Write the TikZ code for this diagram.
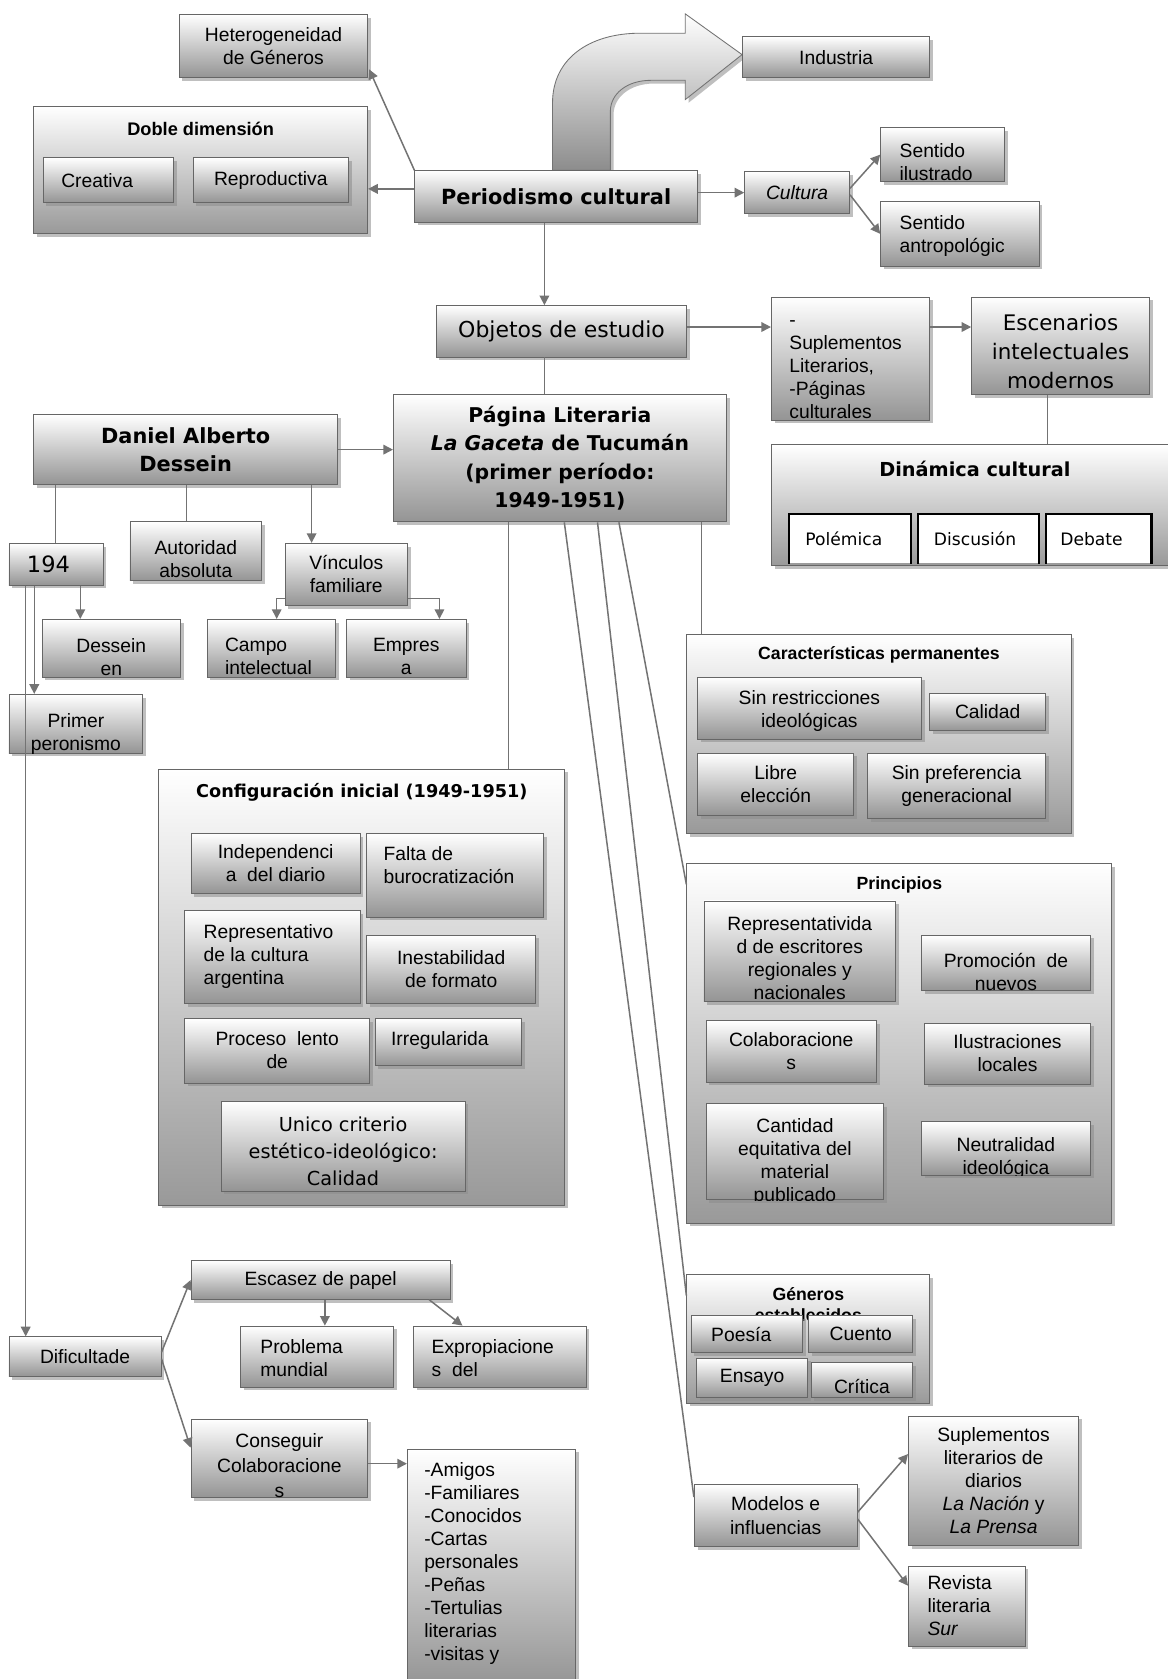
\documentclass[tikz,border=0pt]{standalone}
\usepackage{fontspec}
\setmainfont{Liberation Sans}
\newfontfamily\dvs{DejaVu Sans}
\usetikzlibrary{shadows,arrows.meta,calc}
\newcommand\nfs{\fontsize{18}{21.5}\selectfont}
\newcommand\bxn{}
\newcommand\bx[8]{%
 \node[#6, anchor=north west, minimum width={(#4-(#2))*1pt}, minimum height={(#5-(#3))*1pt}] (#1) at (#2,#3) {};
 \renewcommand\bxn{#1}%
 \begin{scope}
  \clip (#1.south west) rectangle (#1.north east);
  \node[txt,#7] (#1-t) {#8};
 \end{scope}}
\tikzset{
 bxs/.style={draw=black!60, line width=0.8pt, top color=white, bottom color=black!42, inner sep=0pt,
   drop shadow={shadow xshift=3pt,shadow yshift=-3pt,fill=black!45,opacity=0.55}},
 ctn/.style={bxs, bottom color=black!40},
 wht/.style={fill=white, inner sep=0pt},
 txt/.style={inner sep=0pt, align=center, font=\nfs},
 ct/.style={at={(\bxn.center)}},
 tp/.style={at={(\bxn.north)}, anchor=north, yshift=-#1},
 tl/.style 2 args={at={(\bxn.north west)}, anchor=north west, xshift=#1, yshift=-#2, align=left},
 lc/.style={at={(\bxn.west)}, anchor=west, xshift=#1},
 ln/.style={draw=black!55, line width=1.4pt},
 ar/.style={ln, -{Triangle[length=9pt,width=9pt]}},
 hd/.style={inner sep=0pt, align=center, font=\bfseries\fontsize{16.5}{20}\selectfont},
 bighd/.style={inner sep=0pt, align=center, font=\dvs\bfseries\fontsize{18}{22}\selectfont},
}
\begin{document}
\begin{tikzpicture}[x=1pt,y=-1pt]
\fill[white] (0,0) rectangle (1090,1568);
\useasboundingbox (0,0) rectangle (1090,1568);

% ---------- top ----------
\bx{hetero}{167}{13}{343}{72}{bxs}{ct}{Heterogeneidad\\de Géneros}
\bx{doble}{31}{99}{343}{218}{ctn}{ct}{}
\node[hd,font=\bfseries\fontsize{17}{20}\selectfont] (dobleh) at ($(doble.north)+(0,21)$) {Doble dimensión};
\bx{creat}{40}{147}{162}{189}{bxs}{lc=17pt}{Creativa}
\bx{reprod}{180}{147}{325}{189}{bxs}{ct}{Reproductiva}

\path[draw=black!55, line width=0.8pt, top color=white, bottom color=black!45,
  drop shadow={shadow xshift=3pt,shadow yshift=-3pt,fill=black!45,opacity=0.55}]
  (516,159) -- (516,96) .. controls (516,55) and (550,31) .. (598,31) -- (640,31) -- (640,13)
  -- (693,51) -- (640,93) -- (640,75) -- (608,75) .. controls (585,75) and (570,88) .. (570,104)
  -- (570,159) -- cycle;

\bx{indus}{693}{34}{868}{72}{bxs}{ct}{Industria}
\bx{perio}{387}{159}{651}{207}{bxs}{ct,font=\dvs\bfseries\fontsize{19.5}{23}\selectfont}{Periodismo cultural}
\bx{cult}{695}{160}{793}{199}{bxs}{ct,font=\nfs\itshape}{Cultura}
\bx{ilus}{822}{119}{938}{169}{bxs}{tl={18pt}{15pt}}{Sentido\\ilustrado}
\bx{antr}{822}{188}{970}{248}{bxs}{tl={18pt}{13.5pt}}{Sentido\\antropológic}

% ---------- objetos ----------
\bx{objet}{407}{285}{641}{333}{bxs}{ct,font=\dvs\fontsize{20.5}{24}\selectfont}{Objetos de estudio}
\bx{supl}{720}{277}{868}{392}{bxs}{tl={17pt}{15pt}}{\vphantom{S}-\\Suplementos\\Literarios,\\-Páginas\\culturales}
\bx{escen}{907}{277}{1073}{368}{bxs}{tp=16pt,font=\dvs\fontsize{20}{27}\selectfont}{Escenarios\\intelectuales\\modernos}

\bx{dinam}{720}{415}{1100}{528}{ctn}{ct}{}
\node[bighd] (dinamh) at ($(dinam.north)+(0,23)$) {Dinámica cultural};
\bx{polem}{737}{480}{850}{526}{wht}{lc=15pt,font=\dvs\fontsize{16}{20}\selectfont}{Polémica}
\bx{discu}{857}{480}{970}{526}{wht}{lc=15pt,font=\dvs\fontsize{16}{20}\selectfont}{Discusión}
\bx{debat}{977}{480}{1075}{526}{wht}{lc=13pt,font=\dvs\fontsize{16}{20}\selectfont}{Debate}
\draw[line width=2pt] (polem.south west) -- (polem.north west) -- (polem.north east) -- (polem.south east);
\draw[line width=2pt] (discu.south west) -- (discu.north west) -- (discu.north east) -- (discu.south east);
\draw[line width=2pt] (debat.south west) -- (debat.north west) -- (debat.north east) -- (debat.south east);

\bx{pagina}{367}{368}{678}{487}{bxs}{ct,font=\dvs\bfseries\fontsize{19}{26.5}\selectfont}{Página Literaria\\\textit{La Gaceta} de Tucumán\\(primer período:\\1949-1951)}
\bx{daniel}{31}{387}{315}{452}{bxs}{ct,font=\dvs\bfseries\fontsize{19.5}{26}\selectfont}{Daniel Alberto\\Dessein}

% ---------- Dessein branch ----------
\bx{b194}{8}{507}{96}{546}{bxs}{lc=17pt,font=\dvs\fontsize{21}{24}\selectfont}{194}
\bx{autor}{121}{487}{244}{542}{bxs}{tp=17.5pt}{Autoridad\\absoluta}
\bx{vinc}{266}{507}{380}{565}{bxs}{ct}{Vínculos\\familiare}
\bx{dessein}{39}{578}{168}{632}{bxs}{tp=18pt}{Dessein\\en}
\bx{campo}{193}{578}{313}{632}{bxs}{tl={17pt}{17.5pt}}{Campo\\intelectual}
\bx{empresa}{323}{578}{435}{632}{bxs}{tp=18pt}{Empres\\a}
\bx{primer}{8}{648}{133}{703}{bxs}{tp=18pt}{Primer\\peronismo}

% ---------- Configuracion inicial ----------
\bx{config}{148}{718}{527}{1125}{ctn}{ct}{}
\node[hd,font=\dvs\bfseries\fontsize{16.5}{20}\selectfont] (configh) at ($(config.north)+(0,22)$) {Configuración inicial (1949-1951)};
\bx{indep}{178}{778}{336}{834}{bxs}{ct}{Independenci\\a\ \ del diario}
\bx{falta}{342}{778}{507}{856}{bxs}{tl={16pt}{12.5pt}}{Falta de\\burocratización}
\bx{repres}{172}{850}{336}{937}{bxs}{tl={18pt}{13.5pt}}{Representativo\\de la cultura\\argentina}
\bx{inest}{342}{873}{500}{937}{bxs}{ct}{Inestabilidad\\de formato}
\bx{proceso}{172}{951}{345}{1011}{bxs}{tp=12.5pt}{Proceso\ \ lento\\de}
\bx{irreg}{350}{951}{487}{995}{bxs}{tl={15pt}{12.5pt}}{Irregularida}
\bx{unico}{206}{1028}{434}{1112}{bxs}{tp=15pt,font=\dvs\fontsize{18}{25}\selectfont}{Unico criterio\\estético-ideológico:\\Calidad}

% ---------- Caracteristicas ----------
\bx{caract}{641}{592}{1000}{778}{ctn}{ct}{}
\node[hd] (caracth) at ($(caract.north)+(0,20)$) {Características permanentes};
\bx{sinrest}{651}{632}{860}{690}{bxs}{tp=12.5pt}{Sin restricciones\\ideológicas}
\bx{calid}{868}{647}{976}{682}{bxs}{ct}{Calidad}
\bx{libre}{651}{703}{797}{761}{bxs}{ct}{Libre\\elección}
\bx{sinpref}{810}{703}{976}{764}{bxs}{tp=11.5pt}{Sin preferencia\\generacional}

% ---------- Principios ----------
\bx{princ}{641}{806}{1038}{1142}{ctn}{ct}{}
\node[hd] (princh) at ($(princ.north)+(0,20)$) {Principios};
\bx{reprv}{657}{841}{836}{935}{bxs}{tp=14.5pt}{Representativida\\d de escritores\\regionales y\\nacionales}
\bx{promo}{860}{873}{1018}{925}{bxs}{tp=17pt}{Promoción\ \ de\\nuevos}
\bx{colab}{659}{953}{818}{1010}{bxs}{tp=11.5pt}{Colaboracione\\s}
\bx{ilust}{863}{955}{1018}{1012}{bxs}{ct}{Ilustraciones\\locales}
\bx{cantid}{659}{1030}{825}{1120}{bxs}{tp=14pt}{Cantidad\\equitativa del\\material\\publicado}
\bx{neutr}{860}{1047}{1018}{1097}{bxs}{tp=15pt}{Neutralidad\\ideológica}

% ---------- Generos ----------
\bx{gener}{641}{1190}{868}{1310}{ctn}{ct}{}
\node[hd,anchor=north] (generh) at ($(gener.north)+(0,12)$) {Géneros\\establecidos};
\bx{poesia}{645}{1228}{749}{1263}{bxs}{lc=19pt}{Poesía}
\bx{cuento}{755}{1228}{852}{1263}{bxs}{ct}{Cuento}
\bx{ensayo}{650}{1268}{754}{1305}{bxs}{ct}{Ensayo}
\bx{critica}{757}{1272}{852}{1305}{bxs}{tp=16pt}{Crítica}

% ---------- Modelos ----------
\bx{model}{648}{1386}{800}{1444}{bxs}{ct}{Modelos e\\influencias}
\bx{suplit}{848}{1322}{1007}{1443}{bxs}{tp=10.5pt}{Suplementos\\literarios de\\diarios\\\textit{La Nación} y\\\textit{La Prensa}}
\bx{revista}{848}{1462}{957}{1537}{bxs}{tl={18pt}{9.5pt}}{Revista\\literaria\\\textit{Sur}}

% ---------- Dificultades ----------
\bx{dific}{8}{1248}{150}{1285}{bxs}{ct}{Dificultade}
\bx{escasez}{178}{1177}{420}{1213}{bxs}{ct}{Escasez de papel}
\bx{problema}{224}{1238}{367}{1295}{bxs}{tl={19pt}{12.5pt}}{Problema\\mundial}
\bx{exprop}{386}{1238}{547}{1295}{bxs}{tl={17pt}{12.5pt}}{Expropiacione\\s\ \ del}
\bx{consg}{178}{1325}{343}{1398}{bxs}{tp=14pt,font=\fontsize{18}{23}\selectfont}{Conseguir\\Colaboracione\\s}
\bx{amigos}{380}{1353}{537}{1575}{bxs}{tl={16pt}{12.5pt}}{-Amigos\\-Familiares\\-Conocidos\\-Cartas\\personales\\-Peñas\\-Tertulias\\literarias\\-visitas y}

% ---------- connectors ----------
\draw[ar] (perio.north west) -- ($(hetero.south east)+(1,-8)$);
\draw[ar] ([yshift=7pt]perio.west) coordinate (pw) -- (doble.east |- pw);
\draw[ar] ([xshift=-11pt]perio.south) coordinate (ps) -- (ps |- objet.north);
\draw[ar] (perio.east |- cult.west) -- (cult.west);
\draw[ar] ([yshift=4pt]cult.east) -- (ilus.west);
\draw[ar] ([yshift=-2pt]cult.east) -- (antr.west);
\draw[ar] ([yshift=4pt]objet.east) coordinate (oe) -- (supl.west |- oe);
\draw[ar] (supl.east |- oe) -- (escen.west |- oe);
\draw[ln] ([xshift=-12pt]escen.south) coordinate (es) -- (es |- dinam.north);
\draw[ln] ([xshift=-16pt]objet.south) coordinate (os) -- (os |- pagina.north);
\draw[ar] (daniel.east) -- (pagina.west |- daniel.east);
\draw[ln] ([xshift=21pt]daniel.south west) coordinate (d1) -- (d1 |- b194.north);
\draw[ln] ([xshift=143pt]daniel.south west) coordinate (d2) -- (d2 |- autor.north);
\draw[ar] ([xshift=260pt]daniel.south west) coordinate (d3) -- (d3 |- vinc.north);
\draw[ar] ([xshift=67pt]b194.south west) coordinate (b1) -- (b1 |- dessein.north);
\draw[ar] ([yshift=7pt]vinc.south west) -| ([xshift=5pt]campo.north);
\draw[ar] ([yshift=7pt]vinc.south east) -| ([xshift=31pt]empresa.north);
\draw[ar] ([xshift=24pt]b194.south west) coordinate (b2) -- (b2 |- primer.north);
\draw[ar] ([xshift=16pt]b194.south west) coordinate (b3) -- (b3 |- dific.north);
\draw[ln] ([xshift=108pt]pagina.south west) coordinate (p1) -- (p1 |- config.north);
\draw[ln] ([xshift=288pt]pagina.south west) coordinate (p2) -- (p2 |- caract.north);
\draw[ln] ([xshift=211pt]pagina.south west) -- ($(princ.north west)+(0,20)$);
\draw[ln] ([xshift=191pt]pagina.south west) -- ($(gener.north west)+(0,20)$);
\draw[ln] ([xshift=160pt]pagina.south west) -- ($(model.north west)+(0,12)$);
\draw[ar] ([yshift=3pt]model.east) -- ([yshift=25pt]suplit.west);
\draw[ar] ([yshift=-3pt]model.east) -- ([yshift=19pt]revista.west);
\draw[ar] ([yshift=4pt]dific.east) -- (escasez.west);
\draw[ar] ([yshift=-2pt]dific.east) -- ([yshift=10pt]consg.west);
\draw[ar] ([xshift=4pt]escasez.south) coordinate (e1) -- (e1 |- problema.north);
\draw[ar] ([xshift=-20pt]escasez.south east) -- ([xshift=-35pt]exprop.north);
\draw[ar] ([yshift=-5pt]consg.east) coordinate (c1) -- (amigos.west |- c1);
\end{tikzpicture}
\end{document}
